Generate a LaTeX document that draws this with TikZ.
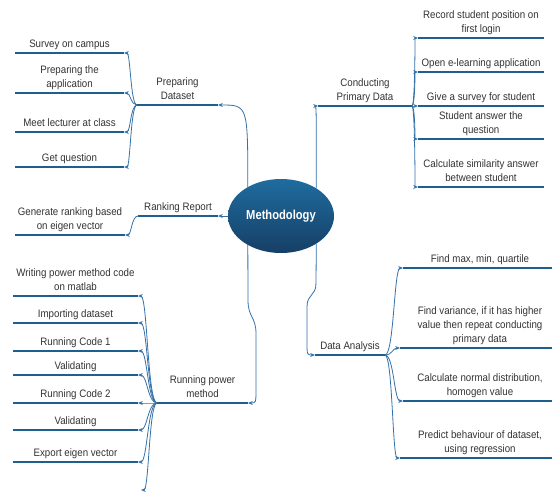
\documentclass[tikz,border=0pt]{standalone}
\usepackage{fontspec}
\setmainfont{Liberation Sans}[FakeStretch=0.9]
\newfontfamily\methfont{Liberation Sans}[FakeStretch=0.86]
\usetikzlibrary{arrows.meta,shapes.geometric,calc}
\definecolor{barblue}{HTML}{1D5F8E}
\definecolor{conblue}{HTML}{3371A8}
\definecolor{txtgray}{HTML}{333333}
\definecolor{elltop}{HTML}{1F6C9F}
\definecolor{ellbot}{HTML}{163F66}
% \leaf{name}{x1}{x2}{y}{text centre x}{text}
\newcommand\leaf[6]{%
  \coordinate (#1a) at (#2,#4);
  \coordinate (#1b) at (#3,#4);
  \draw[bar] (#1a) -- (#1b);
  \node[lbl] (#1t) at (#5,#4-1) {#6};}
\begin{document}
\begin{tikzpicture}[x=1pt,y=-1pt,
  bar/.style={draw=barblue,line width=2.8pt},
  conn/.style={draw=conblue,line width=0.8pt,-{Stealth[length=4.8pt,width=4pt]}},
  curv/.style={to path={let \p1=(\tikztostart),\p2=(\tikztotarget) in
     .. controls ({(\x1+\x2)/2},\y1) and ({(\x1+\x2)/2},\y2) .. (\tikztotarget)}},
  lbl/.style={text=txtgray,font=\fontsize{10.8}{14}\selectfont,align=center,
     inner sep=0pt,anchor=south,execute at end node=\strut},
]
\fill[white] (0,0) rectangle (552,491);
\useasboundingbox (0,0) rectangle (552,491);

% ---------- Preparing Dataset ----------
\leaf{pd}{137}{218}{105}{177.5}{Preparing\\Dataset}
\leaf{pdA}{15}{124}{53}{69.5}{Survey on campus}
\leaf{pdB}{15}{124}{93}{69.5}{Preparing the\\application}
\leaf{pdC}{15}{124}{132}{69.5}{Meet lecturer at class}
\leaf{pdD}{15}{124}{167}{69.5}{Get question}

% ---------- Ranking Report ----------
\leaf{rr}{138}{218}{216}{178}{Ranking Report}
\leaf{rrA}{15}{125}{235}{70}{Generate ranking based\\on eigen vector}

% ---------- Running power method ----------
\leaf{rp}{157}{248}{403}{202.5}{Running power\\method}
\leaf{rpA}{13}{138}{296}{75.5}{Writing power method code\\on matlab}
\leaf{rpB}{13}{138}{323}{75.5}{Importing dataset}
\leaf{rpC}{13}{138}{351}{75.5}{Running Code 1}
\leaf{rpD}{13}{138}{375}{75.5}{Validating}
\leaf{rpE}{13}{138}{403}{75.5}{Running Code 2}
\leaf{rpF}{13}{138}{430}{75.5}{Validating}
\leaf{rpG}{13}{138}{462}{75.5}{Export eigen vector}
\coordinate (rpHb) at (141,490);

% ---------- Conducting Primary Data ----------
\leaf{cp}{318}{412}{106}{365}{Conducting\\Primary Data}
\leaf{cpA}{418}{544}{38}{481}{Record student position on\\first login}
\leaf{cpB}{418}{544}{72}{481}{Open e-learning application}
\leaf{cpC}{418}{544}{106}{481}{Give a survey for student}
\leaf{cpD}{418}{544}{139}{481}{Student answer the\\question}
\leaf{cpE}{418}{544}{187}{481}{Calculate similarity answer\\between student}

% ---------- Data Analysis ----------
\leaf{da}{315}{385}{355}{350}{Data Analysis}
\leaf{daA}{403}{552}{268}{480}{Find max, min, quartile}
\leaf{daB}{400}{552}{348}{480}{Find variance, if it has higher\\value then repeat conducting\\primary data}
\leaf{daC}{403}{552}{401}{480}{Calculate normal distribution,\\homogen value}
\leaf{daD}{400}{552}{458}{480}{Predict behaviour of dataset,\\using regression}

% ---------- centre ----------
\node[ellipse,minimum width=106pt,minimum height=74pt,inner sep=0pt,outer sep=0pt,
      top color=elltop,bottom color=ellbot,text=white,
      font=\methfont\bfseries\fontsize{13}{15}\selectfont] (m) at (281,216) {Methodology};

% ---------- main connectors ----------
\draw[conn] (m.139) .. controls (m.139 |- pdb) and (m.139 |- pdb) .. (pdb);
\draw[conn] (m.38) .. controls (m.38 |- cpa) and (m.38 |- cpa) .. (cpa);
\draw[conn] (m.west) -- (rrb);
\draw[conn] (m.221) -- (248,300) .. controls (248,318) and (256,316) .. (256,334)
   -- (256,388) .. controls (256,403) .. (rpb);
\draw[conn] (m.322) -- (316,283) .. controls (316,297) and (307,293) .. (307,307)
   -- (307,342) .. controls (307,355) .. (daa);

% ---------- branch connectors ----------
\foreach \c in {pdA,pdB,pdC,pdD} \draw[conn] (pda) to[curv] (\c b);
\draw[conn] (rra) to[curv] (rrAb);
\foreach \c in {rpA,rpB,rpC,rpD,rpE,rpF,rpG,rpH} \draw[conn] (rpa) to[curv] (\c b);
\foreach \c in {cpA,cpB,cpC,cpD,cpE} \draw[conn] (cpb) to[curv] (\c a);
\foreach \c in {daA,daB,daC,daD} \draw[conn] (dab) to[curv] (\c a);
\end{tikzpicture}
\end{document}
